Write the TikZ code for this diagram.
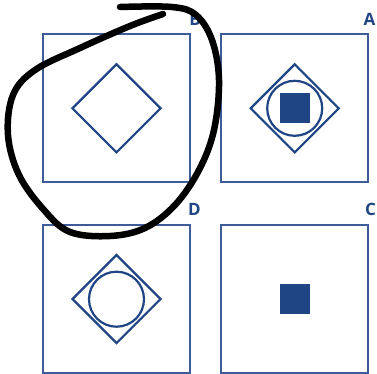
\documentclass[tikz,border=0pt]{standalone}
\usepackage{fontspec}
\setmainfont{Open Sans}
\usetikzlibrary{shapes.geometric}
\definecolor{boxblue}{HTML}{3E5C98}
\definecolor{shapeblue}{HTML}{1F4584}
\tikzset{
  x=1pt,y=-1pt,
  panel/.style={draw=boxblue,line width=1.3pt,minimum width=147pt,minimum height=148pt,inner sep=0pt},
  dia/.style={draw=shapeblue,line width=2.2pt,diamond,minimum width=89pt,minimum height=89pt,inner sep=0pt,aspect=1},
  ring/.style={draw=shapeblue,line width=2.2pt,circle,minimum size=55pt,inner sep=0pt},
  block/.style={fill=shapeblue,minimum size=30pt,inner sep=0pt},
  lab/.style={text=shapeblue,font=\bfseries\fontsize{17}{17}\selectfont,inner sep=0pt},
  scribble/.style={line width=6.5pt,line cap=round,line join=round,black}
}
\begin{document}
\begin{tikzpicture}
\useasboundingbox (0,0) rectangle (377,373);
% panels
\node[panel] (pB) at (116.5,108) {};
\node[panel] (pA) at (294.5,108) {};
\node[panel] (pD) at (116.5,299) {};
\node[panel] (pC) at (294.5,299) {};
% B
\node[dia] (dB) at (116.5,108.3) {};
% A
\node[dia] (dA) at (294.7,108.3) {};
\node[ring] (rA) at (294.7,108.3) {};
\node[block] (sA) at (294.7,108.3) {};
% D
\node[dia] (dD) at (116.5,299) {};
\node[ring] (rD) at (116.5,299.2) {};
% C
\node[block] (sC) at (294.5,299.3) {};
% labels
\node[lab] (lB) at (195,19) {B};
\node[lab] (lA) at (369.5,19) {A};
\node[lab] (lD) at (194.5,209.5) {D};
\node[lab] (lC) at (370.5,209.5) {C};
% scribble
\draw[scribble] plot[smooth,tension=0.6] coordinates {
 (163,14) (130,26) (80,48) (35,70) (13,95) (8,135) (19,175) (44,210) (70,232) (110,236) (145,228) (175,205) (199,170) (214,130) (219,80) (212,40) (196,15) (172,7) (120,7)};
\end{tikzpicture}
\end{document}
